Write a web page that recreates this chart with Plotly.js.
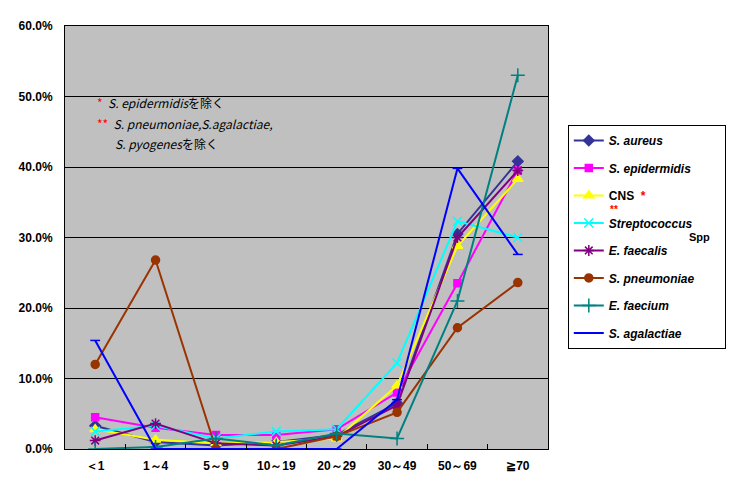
<!DOCTYPE html>
<html>
<head>
<meta charset="utf-8">
<script src="https://cdn.plot.ly/plotly-3.0.1.min.js"></script>
<style>
  body { margin: 0; background: #fff; }
  #chart { width: 733px; height: 493px; }
</style>
</head>
<body>
<div id="chart"></div>
<script>
// age groups (x categories)
const ageGroups = ['＜1', '1～4', '5～9', '10～19', '20～29', '30～49', '50～69', '≧70'];

// percentages per age group
const sAureus      = [3.3, 1.0, 0.5, 1.0, 2.0, 6.5, 30.5, 40.8];
const sEpidermidis = [4.5, 3.0, 2.0, 2.0, 2.8, 8.0, 23.5, 39.5];
const cns          = [2.8, 1.3, 0.8, 1.0, 1.5, 9.0, 28.8, 38.3];
const strepSpp     = [2.5, 3.3, 1.5, 2.5, 2.8, 12.2, 32.3, 30.0];
const eFaecalis    = [1.2, 3.6, 0.8, 0.5, 1.8, 6.2, 30.0, 39.5];
const sPneumoniae  = [12.0, 26.8, 0.0, 0.0, 1.8, 5.2, 17.2, 23.6];
const eFaecium     = [0.0, 0.3, 1.5, 0.5, 2.2, 1.5, 21.0, 53.0];
const sAgalactiae  = [15.4, 0.0, 0.0, 0.0, 0.0, 7.0, 39.8, 27.6];

const yTicks = [0, 10, 20, 30, 40, 50, 60];

const sp = '\u00a0';
// a white dot after the padding keeps the legend box as wide as the original
const pad = sp.repeat(7) + '<span style="color:#fff">.</span>';
const series = [
    { y: sAureus, name: '<b><i>S. aureus</i></b>', color: '#333399', symbol: 'diamond', size: 8 },
    { y: sEpidermidis, name: '<b><i>S. epidermidis</i></b>', color: '#ff00ff', symbol: 'square', size: 7 },
    { y: cns, name: '<b>CNS</b>' + sp + sp + '<span style="color:red"><b>*</b></span>', color: '#ffff00', symbol: 'triangle-up', size: 9 },
    { y: strepSpp, name: '<b><i>Streptococcus</i></b>' + pad, color: '#00ffff', symbol: 'x-thin-open', size: 9 },
    { y: eFaecalis, name: '<b><i>E. faecalis</i></b>', color: '#800080', symbol: 'asterisk-open', size: 9 },
    { y: sPneumoniae, name: '<b><i>S. pneumoniae</i></b>', color: '#993300', symbol: 'circle', size: 8 },
    { y: eFaecium, name: '<b><i>E. faecium</i></b>', color: '#008080', symbol: 'cross-thin-open', size: 10 },
    { y: sAgalactiae, name: '<b><i>S. agalactiae</i></b>', color: '#0000ff', symbol: 'line-ew-open', size: 7 }
];

const traces = series.map((s, i) => ({
    x: ageGroups,
    y: s.y,
    type: 'scatter',
    mode: 'lines+markers',
    name: s.name,
    legendgroup: 'g' + i,
    line: { color: s.color, width: 2 },
    marker: { color: s.color, symbol: s.symbol, size: s.size, line: { color: s.color, width: 1.5 } }
}));

const font = 'Arial, "Liberation Sans", sans-serif';
const jpFont = '"Noto Sans CJK JP", sans-serif';

const layout = {
    width: 733,
    height: 493,
    margin: { l: 65, r: 185, t: 26, b: 44, autoexpand: false },
    paper_bgcolor: '#ffffff',
    plot_bgcolor: '#c0c0c0',
    font: { family: font, size: 11, color: '#000' },
    showlegend: true,
    legend: {
        x: 1.041, y: 0.766, xanchor: 'left', yanchor: 'top',
        bgcolor: '#ffffff', bordercolor: '#000', borderwidth: 1,
        font: { family: font, size: 12, color: '#000' },
        tracegroupgap: 8.5,
        itemwidth: 30
    },
    xaxis: {
        type: 'category',
        range: [-0.5, 7.5],
        showline: true, linecolor: '#000', linewidth: 1, mirror: true,
        ticks: 'inside', tickson: 'boundaries', ticklen: 5, tickcolor: '#000',
        showgrid: false,
        ticklabelstandoff: 6,
        tickfont: { family: font, size: 12, color: '#000', weight: 'bold' }
    },
    yaxis: {
        range: [0, 60],
        tickvals: yTicks,
        ticktext: yTicks.map(v => '<b>' + v.toFixed(1) + '%</b>'),
        showline: true, linecolor: '#000', linewidth: 1, mirror: true,
        showgrid: true, gridcolor: '#000', gridwidth: 1,
        zeroline: false,
        ticks: '',
        ticklabelstandoff: 9,
        tickfont: { family: font, size: 12, color: '#000' }
    },
    annotations: [
        {
            xref: 'paper', yref: 'paper', x: 0.062, y: 0.818, xanchor: 'left', yanchor: 'middle',
            showarrow: false, font: { family: jpFont, size: 12, color: '#000' },
            text: '<span style="color:red">*</span>' + sp + ' <i>S. epidermidis</i>を除く'
        },
        {
            xref: 'paper', yref: 'paper', x: 0.062, y: 0.77, xanchor: 'left', yanchor: 'middle',
            showarrow: false, font: { family: jpFont, size: 12, color: '#000' },
            text: '<span style="color:red">**</span>' + sp + ' <i>S. pneumoniae,S.agalactiae,</i>'
        },
        {
            xref: 'paper', yref: 'paper', x: 0.1, y: 0.723, xanchor: 'left', yanchor: 'middle',
            showarrow: false, font: { family: jpFont, size: 12, color: '#000' },
            text: '<i>S. pyogenes</i>を除く'
        },
        {
            xref: 'paper', yref: 'paper', x: 1.124, y: 0.566, xanchor: 'left', yanchor: 'middle',
            showarrow: false, font: { family: font, size: 10, color: 'red' },
            text: '<b>**</b>'
        },
        {
            xref: 'paper', yref: 'paper', x: 1.339, y: 0.501, xanchor: 'right', yanchor: 'middle',
            showarrow: false, font: { family: font, size: 11, color: '#000' },
            text: '<b>Spp</b>'
        }
    ]
};

Plotly.newPlot('chart', traces, layout, { displayModeBar: false, staticPlot: true });
</script>
</body>
</html>
